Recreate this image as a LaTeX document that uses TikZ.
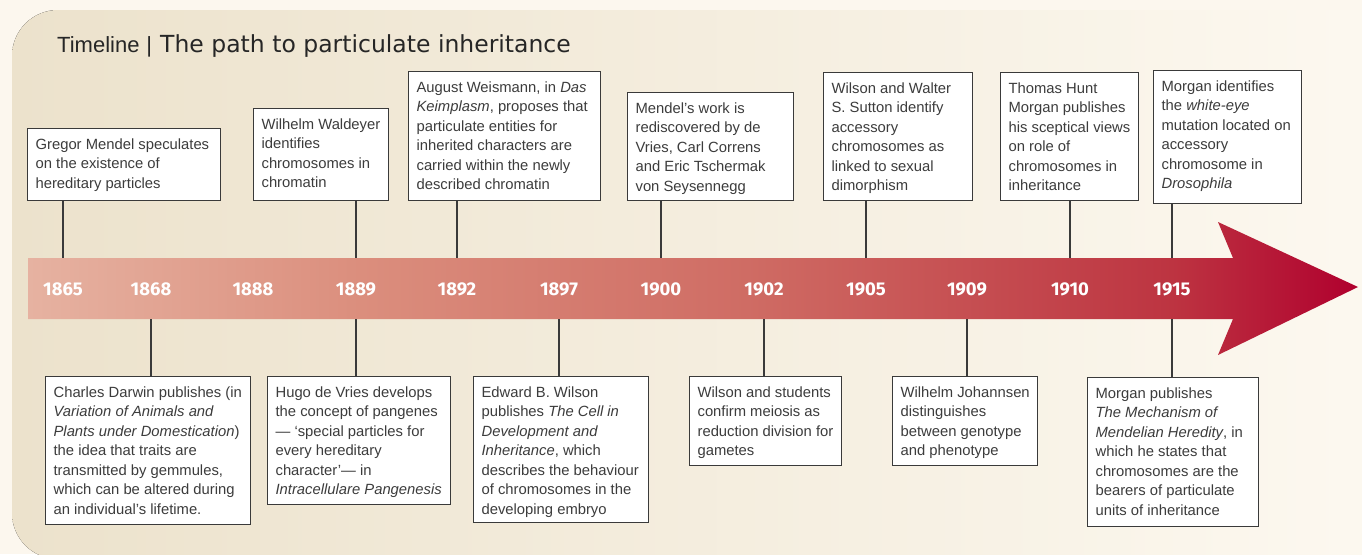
\documentclass[tikz,border=0pt]{standalone}
\usepackage{fontspec}
\setmainfont{Liberation Sans}
\newfontfamily\titlefont{DejaVu Sans}
\newfontfamily\yearfont{Fira Sans}
\definecolor{pagebg}{HTML}{FCF7EE}
\definecolor{bgl}{HTML}{ECE2CC}
\definecolor{bgr}{HTML}{FDF9F1}
\definecolor{txtc}{HTML}{3C3C3C}
\definecolor{linec}{HTML}{3A3A3A}
\definecolor{aa}{HTML}{E6B2A1}
\definecolor{ab}{HTML}{DB8E7D}
\definecolor{ac}{HTML}{CF6C64}
\definecolor{ad}{HTML}{BD3441}
\definecolor{ae}{HTML}{B0002E}
\pgfdeclarehorizontalshading{arrowsh}{100bp}{color(0bp)=(aa); color(25bp)=(aa); color(37.5bp)=(ab); color(52bp)=(ac); color(68bp)=(ad); color(75bp)=(ae); color(100bp)=(ae)}
\newcommand\bxt[3]{\parbox[c][#2pt][t]{#1pt}{\vspace*{6.9pt}\hspace*{8pt}\begin{tabular}[t]{@{}l@{}}#3\end{tabular}}}
\tikzset{
  evbox/.style={draw=linec, line width=1.2pt, fill=white, inner sep=0pt, anchor=north west, text=txtc, font=\fontsize{14.8}{19.5}\selectfont},
  yr/.style={text=white, font=\yearfont\bfseries\fontsize{18.5}{18.5}\selectfont},
  conn/.style={draw=linec, line width=1.2pt}
}
\begin{document}
\begin{tikzpicture}[x=1pt,y=-1pt]
\useasboundingbox (0,0) rectangle (1362,554);
\fill[pagebg] (0,0) rectangle (1362,554);
\fill[left color=bgl, right color=bgr, rounded corners=46pt] (1420,10) -- (12,10) -- (12,559) -- (1420,559) -- cycle;
% title
\node[anchor=base west, inner sep=0pt, text=black!85] (title) at (57,52) {{\fontsize{22}{22}\selectfont Timeline\hspace{7pt}|\hspace{8pt}}{\titlefont\fontsize{23.5}{23.5}\selectfont The path to particulate inheritance}};
% arrow
\path[shading=arrowsh] (28,258) -- (1233,258) -- (1218,222) -- (1358,287) -- (1218,355) -- (1233,319) -- (28,319) -- cycle;
\coordinate (bt) at (0,258);
\coordinate (bb) at (0,319);
% years
\node[yr] (y1865) at (63,289) {1865};
\node[yr] (y1868) at (151,289) {1868};
\node[yr] (y1888) at (253,289) {1888};
\node[yr] (y1889) at (356,289) {1889};
\node[yr] (y1892) at (457,289) {1892};
\node[yr] (y1897) at (559,289) {1897};
\node[yr] (y1900) at (661,289) {1900};
\node[yr] (y1902) at (764,289) {1902};
\node[yr] (y1905) at (866,289) {1905};
\node[yr] (y1909) at (967,289) {1909};
\node[yr] (y1910) at (1070,289) {1910};
\node[yr] (y1915) at (1172,289) {1915};
% top boxes
\node[evbox] (t1) at (27,128) {\bxt{193}{72}{Gregor Mendel speculates\\on the existence of\\hereditary particles}};
\node[evbox] (t2) at (253,108) {\bxt{135}{92}{Wilhelm Waldeyer\\identifies\\chromosomes in\\chromatin}};
\node[evbox] (t3) at (408,71) {\bxt{192}{129}{August Weismann, in \textit{Das}\\\textit{Keimplasm}, proposes that\\particulate entities for\\inherited characters are\\carried within the newly\\described chromatin}};
\node[evbox] (t4) at (627,92) {\bxt{166}{108}{Mendel’s work is\\rediscovered by de\\Vries, Carl Correns\\and Eric Tschermak\\von Seysennegg}};
\node[evbox] (t5) at (823,72) {\bxt{149}{128}{Wilson and Walter\\S. Sutton identify\\accessory\\chromosomes as\\linked to sexual\\dimorphism}};
\node[evbox] (t6) at (1000,72) {\bxt{138}{128}{Thomas Hunt\\Morgan publishes\\his sceptical views\\on role of\\chromosomes in\\inheritance}};
\node[evbox] (t7) at (1153,70) {\bxt{148}{133}{Morgan identifies\\the \textit{white-eye}\\mutation located on\\accessory\\chromosome in\\\textit{Drosophila}}};
% bottom boxes
\node[evbox] (b1) at (45,376) {\bxt{205}{148}{Charles Darwin publishes (in\\\textit{Variation of Animals and}\\\textit{Plants under Domestication})\\the idea that traits are\\transmitted by gemmules,\\which can be altered during\\an individual’s lifetime.}};
\node[evbox] (b2) at (267,376) {\bxt{183}{128}{Hugo de Vries develops\\the concept of pangenes\\— ‘special particles for\\every hereditary\\character’— in\\\textit{Intracellulare Pangenesis}}};
\node[evbox] (b3) at (473,376) {\bxt{175}{146}{Edward B. Wilson\\publishes \textit{The Cell in}\\\textit{Development and}\\\textit{Inheritance}, which\\describes the behaviour\\of chromosomes in the\\developing embryo}};
\node[evbox] (b4) at (689,376) {\bxt{152}{89}{Wilson and students\\confirm meiosis as\\reduction division for\\gametes}};
\node[evbox] (b5) at (892,376) {\bxt{145}{89}{Wilhelm Johannsen\\distinguishes\\between genotype\\and phenotype}};
\node[evbox] (b6) at (1087,377) {\bxt{171}{149}{Morgan publishes\\\textit{The Mechanism of}\\\textit{Mendelian Heredity}, in\\which he states that\\chromosomes are the\\bearers of particulate\\units of inheritance}};
% connectors
\draw[conn] (t1.south -| y1865) -- (y1865 |- bt);
\draw[conn] (t2.south -| y1889) -- (y1889 |- bt);
\draw[conn] (t3.south -| y1892) -- (y1892 |- bt);
\draw[conn] (t4.south -| y1900) -- (y1900 |- bt);
\draw[conn] (t5.south -| y1905) -- (y1905 |- bt);
\draw[conn] (t6.south -| y1910) -- (y1910 |- bt);
\draw[conn] (t7.south -| y1915) -- (y1915 |- bt);
\draw[conn] (b1.north -| y1868) -- (y1868 |- bb);
\draw[conn] (b2.north -| y1889) -- (y1889 |- bb);
\draw[conn] (b3.north -| y1897) -- (y1897 |- bb);
\draw[conn] (b4.north -| y1902) -- (y1902 |- bb);
\draw[conn] (b5.north -| y1909) -- (y1909 |- bb);
\draw[conn] (b6.north -| y1915) -- (y1915 |- bb);
\end{tikzpicture}
\end{document}
